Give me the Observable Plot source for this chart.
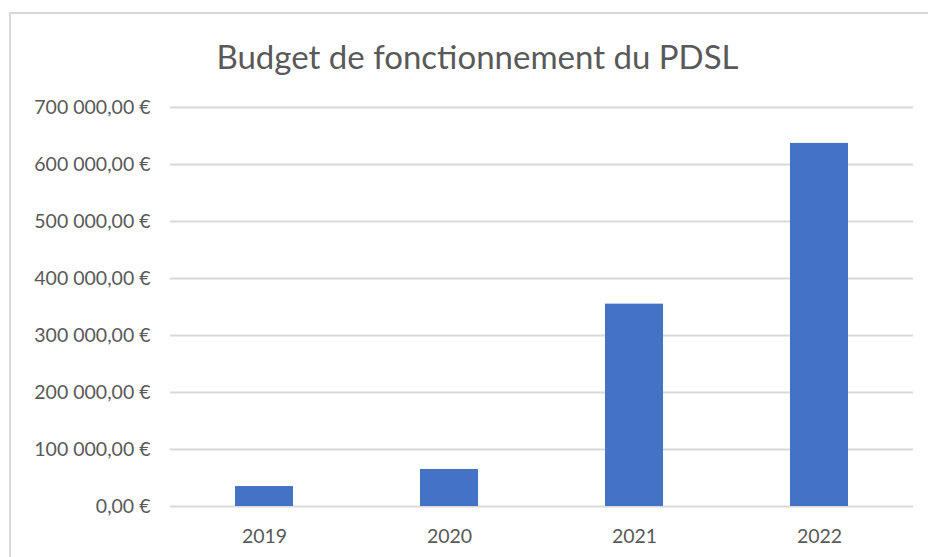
<!DOCTYPE html>
<html>
<head>
<meta charset="utf-8">
<script src="https://cdn.jsdelivr.net/npm/d3@7"></script>
<script src="https://cdn.jsdelivr.net/npm/@observablehq/plot@0.6"></script>
<style>
  html, body { margin: 0; padding: 0; background: #fff; overflow: hidden; }
  #wrap { position: relative; width: 928px; height: 557px; overflow: hidden; }
  #frame { position: absolute; left: 9px; top: 12px; width: 1000px; height: 700px;
           border-left: 2.5px solid #d9d9d9; border-top: 2.5px solid #d9d9d9; box-sizing: border-box; }
  #title { position: absolute; left: 0; top: 36px; width: 955px; text-align: center;
           font-family: Lato, sans-serif; font-size: 33px; color: #595959; line-height: 40px; }
  #chart { position: absolute; left: 0; top: 0; }
</style>
</head>
<body>
<div id="wrap">
  <div id="frame"></div>
  <div id="chart"></div>
  <div id="title">Budget de fonctionnement du PDSL</div>
</div>
<script>
const years = ["2019", "2020", "2021", "2022"];
const budgets = [35000, 65000, 355000, 637000];
const yTicks = [0, 100000, 200000, 300000, 400000, 500000, 600000, 700000];

const data = years.map((y, i) => ({year: y, value: budgets[i]}));

const fr = d3.formatLocale({decimal: ",", thousands: "\u00a0", grouping: [3], currency: ["", "\u00a0€"]});
const fmt = fr.format("$,.2f");

const chart = Plot.plot({
  width: 928,
  height: 557,
  marginLeft: 170,
  marginRight: 15,
  marginTop: 107,
  marginBottom: 51,
  style: {fontFamily: "Lato, sans-serif", fontSize: "19.5px", color: "#595959", background: "transparent"},
  x: {domain: years, paddingInner: 0.688, paddingOuter: 0.344, label: null, tickSize: 0, tickPadding: 23},
  y: {domain: [0, 700000], label: null},
  marks: [
    Plot.gridY(yTicks, {stroke: "#d9d9d9", strokeOpacity: 1, strokeWidth: 2}),
    Plot.axisY(yTicks, {tickSize: 0, tickPadding: 20, tickFormat: fmt, label: null, fill: "#595959"}),
    Plot.axisX({tickSize: 0, tickPadding: 23, label: null, fill: "#595959"}),
    Plot.barY(data, {x: "year", y: "value", fill: "#4472C4"})
  ]
});
document.getElementById("chart").appendChild(chart);
</script>
</body>
</html>
